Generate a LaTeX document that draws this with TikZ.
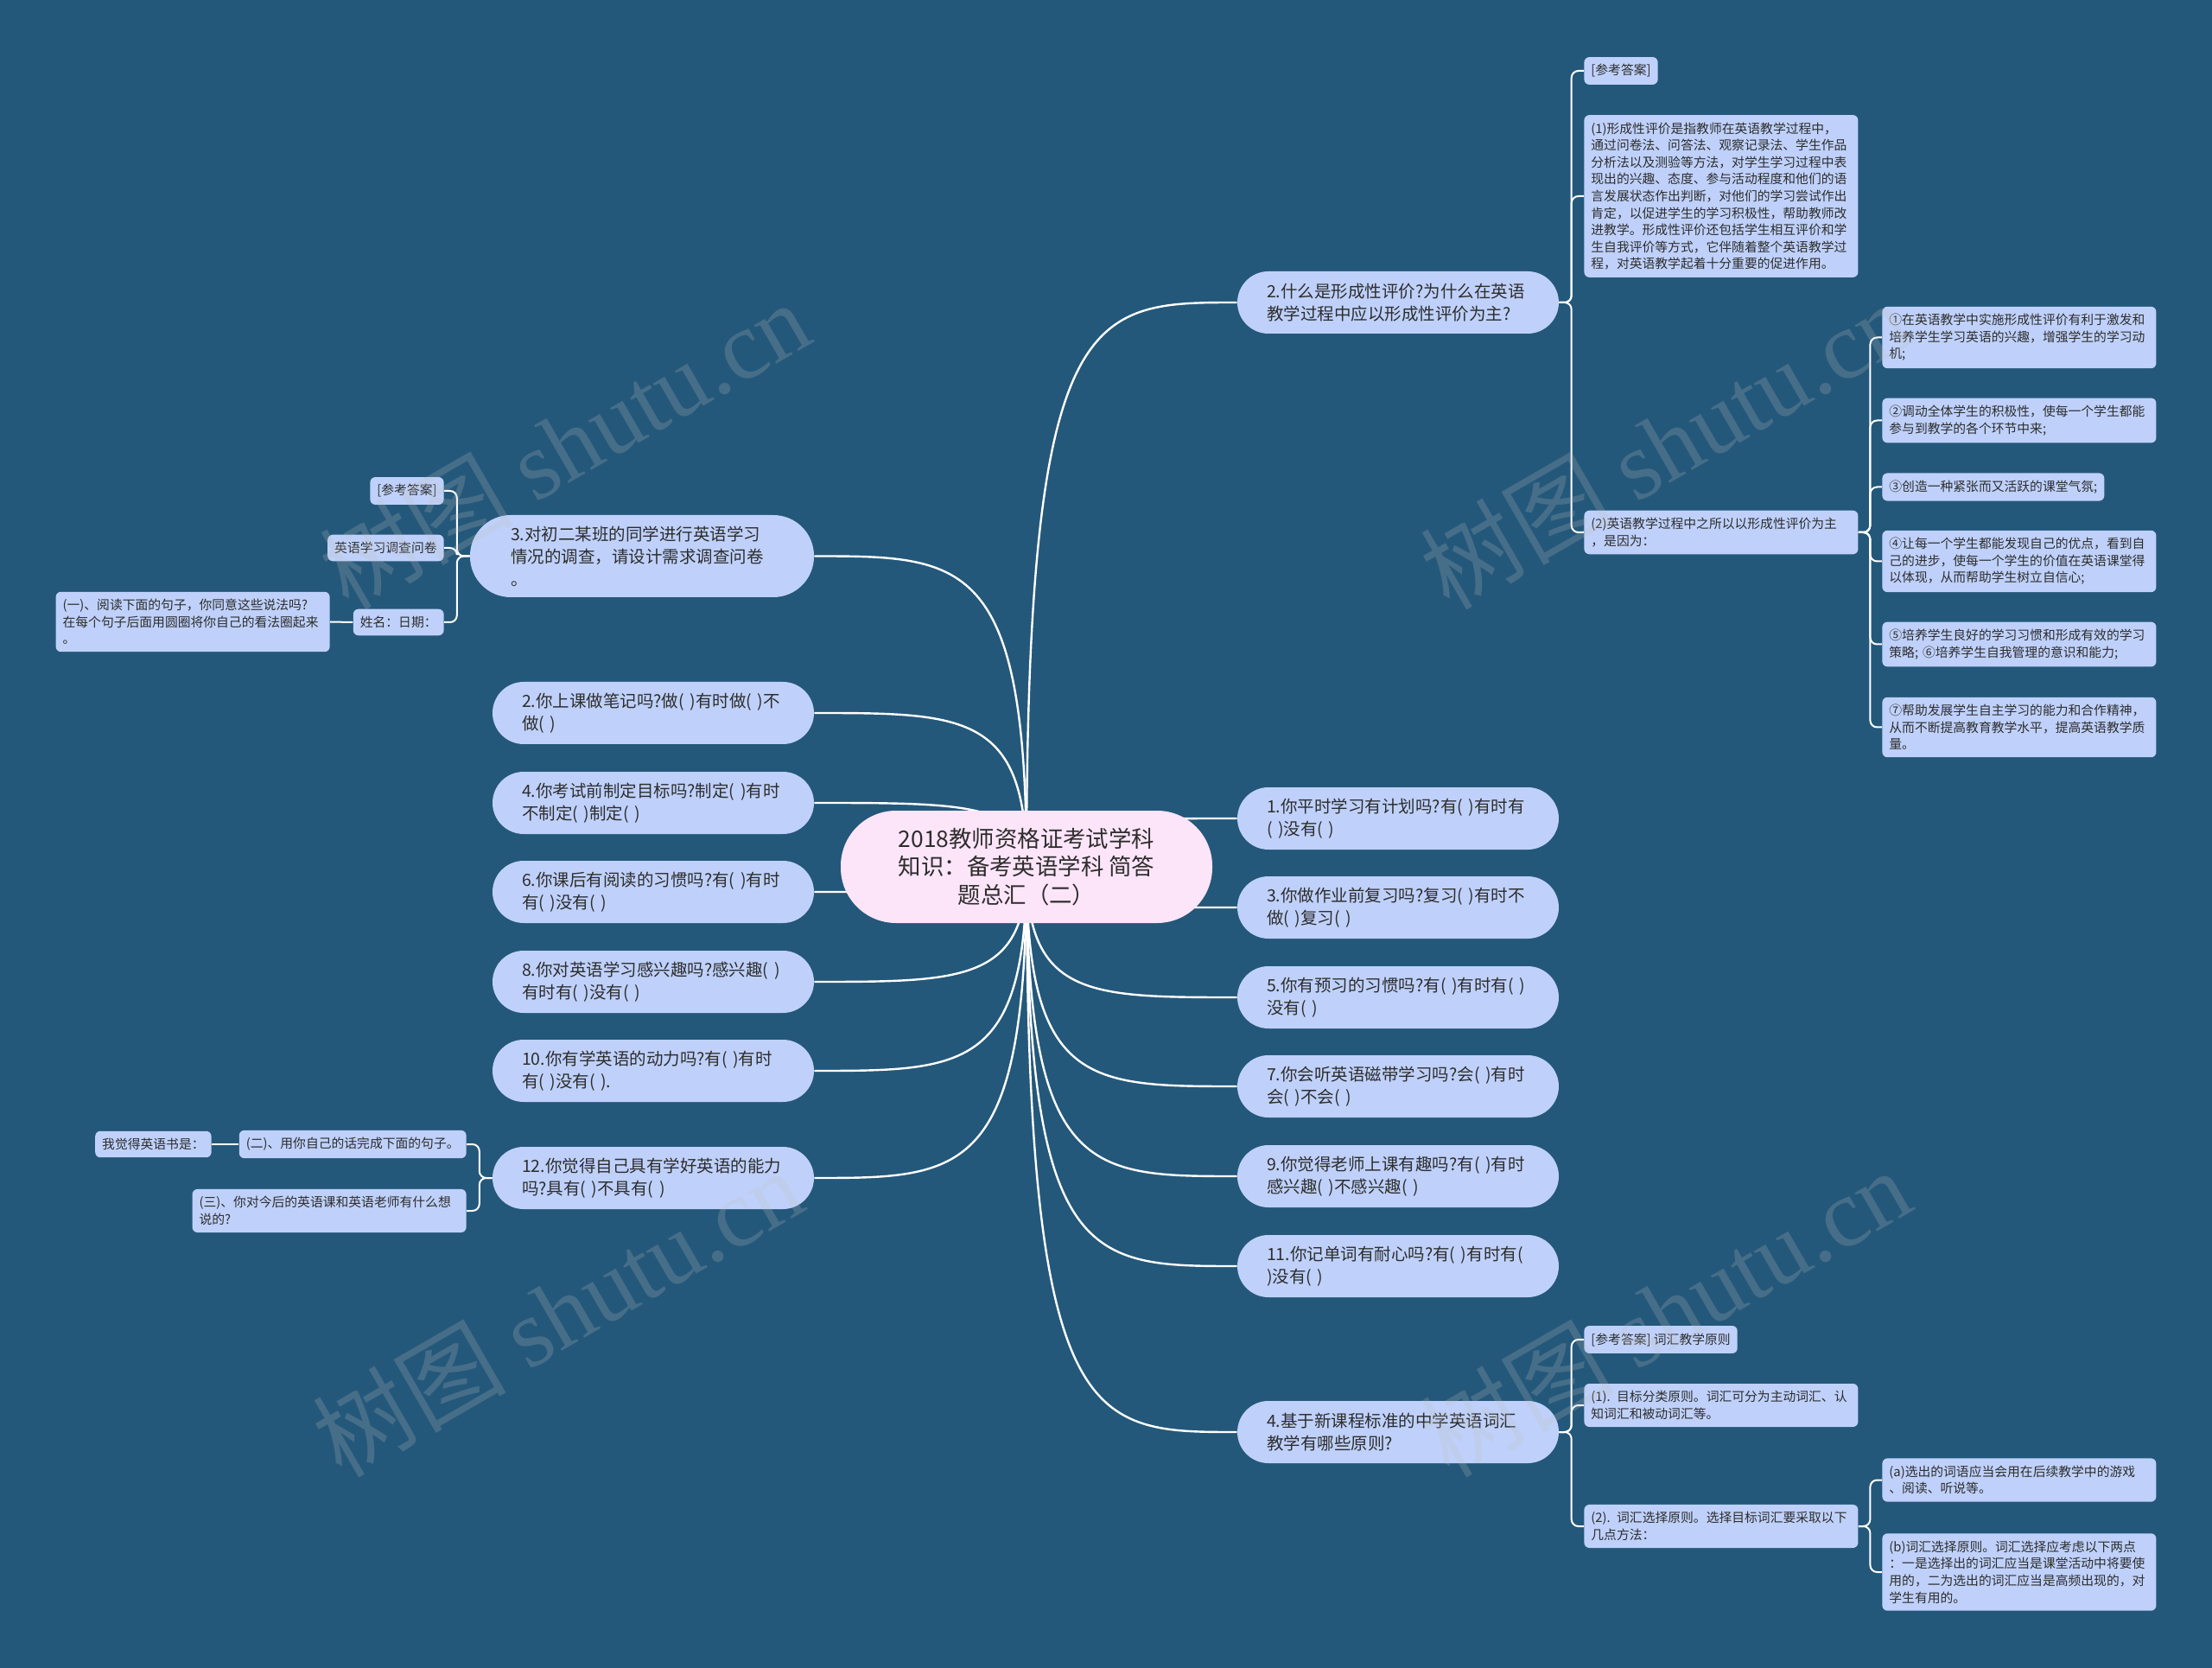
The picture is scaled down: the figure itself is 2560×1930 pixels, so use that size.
\documentclass[tikz,border=0pt]{standalone}
\usepackage{fontspec}
\setmainfont{Noto Sans CJK SC}
\newfontfamily\wmserif{Liberation Serif}
\usetikzlibrary{calc}
\pgfdeclarelayer{bglayer}
\pgfdeclarelayer{linklayer}
\pgfsetlayers{bglayer,linklayer,main}
\definecolor{bgcol}{RGB}{36,88,122}
\definecolor{nodefill}{RGB}{191,209,250}
\definecolor{rootfill}{RGB}{253,229,249}
\definecolor{txt}{RGB}{45,45,45}
\newcommand\mainfs{\fontsize{9.75pt}{13pt}\selectfont}
\newcommand\subfs{\fontsize{7.4pt}{9.8pt}\selectfont}
\newcommand\rootfs{\fontsize{13.2pt}{16.25pt}\selectfont}
\tikzset{
  rootnode/.style={rounded corners=32pt, fill=rootfill, text=txt, font=\rootfs, align=center, minimum width=215pt, minimum height=65pt, inner sep=0pt},
  mainnode/.style={rounded corners=18pt, fill=nodefill, text=txt, font=\mainfs, text width=152pt, align=left, inner xsep=17pt, inner ysep=0pt, minimum height=36pt},
  subnode/.style={rounded corners=3pt, fill=nodefill, text=txt, font=\subfs, align=left, inner xsep=4pt, inner ysep=4.2pt},
  wide/.style={text width=150.5pt},
  link/.style={draw=white, line width=1.2pt},
  sublink/.style={draw=white, line width=1pt, rounded corners=4pt},
  wm/.style={font=\fontsize{56pt}{56pt}\selectfont, text=white!50!gray, text opacity=0.22, rotate=30, inner sep=0pt}
}
\newcommand\mlinkR[1]{\draw[link] let \p1=(c.center),\p2=(#1.west) in (\p1) .. controls (\x1,\y2) and ({\x1+0.3*(\x2-\x1)},\y2) .. (\p2);}
\newcommand\mlinkL[1]{\draw[link] let \p1=(c.center),\p2=(#1.east) in (\p1) .. controls (\x1,\y2) and ({\x1+0.3*(\x2-\x1)},\y2) .. (\p2);}
\newcommand\blinkR[2]{\draw[sublink] let \p1=(#1.east),\p2=(#2.west) in (\p1) -- ({(\x1+\x2)/2},\y1) -- ({(\x1+\x2)/2},\y2) -- (\p2);}
\newcommand\blinkL[2]{\draw[sublink] let \p1=(#1.west),\p2=(#2.east) in (\p1) -- ({(\x1+\x2)/2},\y1) -- ({(\x1+\x2)/2},\y2) -- (\p2);}
\begin{document}
\begin{tikzpicture}[x=0.5pt,y=-0.5pt]
\begin{pgfonlayer}{bglayer}
\fill[bgcol] (0,0) rectangle (2560,1930);
\end{pgfonlayer}
\useasboundingbox (0,0) rectangle (2560,1930);

% root
\node[rootnode] (c) at (1188,1003) {2018教师资格证考试学科\\知识：备考英语学科 简答\\题总汇（二）};

% right main branches
\node[mainnode] (r2) at (1618,350) {2.什么是形成性评价?为什么在英语\\教学过程中应以形成性评价为主?};
\node[mainnode] (r1) at (1618,947) {1.你平时学习有计划吗?有( )有时有\\( )没有( )};
\node[mainnode] (r3) at (1618,1050) {3.你做作业前复习吗?复习( )有时不\\做( )复习( )};
\node[mainnode] (r5) at (1618,1154) {5.你有预习的习惯吗?有( )有时有( )\\没有( )};
\node[mainnode] (r7) at (1618,1257) {7.你会听英语磁带学习吗?会( )有时\\会( )不会( )};
\node[mainnode] (r9) at (1618,1361) {9.你觉得老师上课有趣吗?有( )有时\\感兴趣( )不感兴趣( )};
\node[mainnode] (r11) at (1618,1465) {11.你记单词有耐心吗?有( )有时有(\\)没有( )};
\node[mainnode] (r4) at (1618,1657) {4.基于新课程标准的中学英语词汇\\教学有哪些原则?};

% left main branches
\node[mainnode, inner xsep=23.5pt, minimum height=47.5pt, rounded corners=23.5pt] (l3) at (743,643.5) {3.对初二某班的同学进行英语学习\\情况的调查，请设计需求调查问卷\\。};
\node[mainnode] (l2) at (756,825) {2.你上课做笔记吗?做( )有时做( )不\\做( )};
\node[mainnode] (l4) at (756,929) {4.你考试前制定目标吗?制定( )有时\\不制定( )制定( )};
\node[mainnode] (l6) at (756,1032) {6.你课后有阅读的习惯吗?有( )有时\\有( )没有( )};
\node[mainnode] (l8) at (756,1136) {8.你对英语学习感兴趣吗?感兴趣( )\\有时有( )没有( )};
\node[mainnode] (l10) at (756,1239) {10.你有学英语的动力吗?有( )有时\\有( )没有( ).};
\node[mainnode] (l12) at (756,1363) {12.你觉得自己具有学好英语的能力\\吗?具有( )不具有( )};

% sub nodes of r2
\node[subnode, anchor=west] (s1) at (1833,82) {[参考答案]};
\node[subnode, wide, anchor=west] (s2) at (1833,227) {(1)形成性评价是指教师在英语教学过程中，\\通过问卷法、问答法、观察记录法、学生作品\\分析法以及测验等方法，对学生学习过程中表\\现出的兴趣、态度、参与活动程度和他们的语\\言发展状态作出判断，对他们的学习尝试作出\\肯定，以促进学生的学习积极性，帮助教师改\\进教学。形成性评价还包括学生相互评价和学\\生自我评价等方式，它伴随着整个英语教学过\\程，对英语教学起着十分重要的促进作用。};
\node[subnode, wide, anchor=west] (s3) at (1833,616) {(2)英语教学过程中之所以以形成性评价为主\\，是因为：};
\node[subnode, wide, anchor=west] (t1) at (2178,390.5) {①在英语教学中实施形成性评价有利于激发和\\培养学生学习英语的兴趣，增强学生的学习动\\机;};
\node[subnode, wide, anchor=west] (t2) at (2178,486.5) {②调动全体学生的积极性，使每一个学生都能\\参与到教学的各个环节中来;};
\node[subnode, anchor=west] (t3) at (2178,563.5) {③创造一种紧张而又活跃的课堂气氛;};
\node[subnode, wide, anchor=west] (t4) at (2178,649.5) {④让每一个学生都能发现自己的优点，看到自\\己的进步，使每一个学生的价值在英语课堂得\\以体现，从而帮助学生树立自信心;};
\node[subnode, wide, anchor=west] (t5) at (2178,745.5) {⑤培养学生良好的学习习惯和形成有效的学习\\策略; ⑥培养学生自我管理的意识和能力;};
\node[subnode, wide, anchor=west] (t7) at (2178,841.5) {⑦帮助发展学生自主学习的能力和合作精神，\\从而不断提高教育教学水平，提高英语教学质\\量。};

% sub nodes of r4
\node[subnode, anchor=west] (u1) at (1833,1550) {[参考答案] 词汇教学原则};
\node[subnode, wide, anchor=west] (u2) at (1833,1626) {(1). 目标分类原则。词汇可分为主动词汇、认\\知词汇和被动词汇等。};
\node[subnode, wide, anchor=west] (u3) at (1833,1766) {(2). 词汇选择原则。选择目标词汇要采取以下\\几点方法：};
\node[subnode, wide, anchor=west] (v1) at (2178,1712.5) {(a)选出的词语应当会用在后续教学中的游戏\\、阅读、听说等。};
\node[subnode, wide, anchor=west] (v2) at (2178,1819) {(b)词汇选择原则。词汇选择应考虑以下两点\\：一是选择出的词汇应当是课堂活动中将要使\\用的，二为选出的词汇应当是高频出现的，对\\学生有用的。};

% sub nodes of l3
\node[subnode, anchor=east] (w1) at (514,568) {[参考答案]};
\node[subnode, anchor=east] (w2) at (514,634) {英语学习调查问卷};
\node[subnode, anchor=east] (w3) at (514,720) {姓名：日期：};
\node[subnode, wide, anchor=east] (w4) at (382,719.5) {(一)、阅读下面的句子，你同意这些说法吗?\\在每个句子后面用圆圈将你自己的看法圈起来\\。};

% sub nodes of l12
\node[subnode, anchor=east] (x1) at (540,1324) {(二)、用你自己的话完成下面的句子。};
\node[subnode, anchor=east] (x2) at (245,1324) {我觉得英语书是：};
\node[subnode, wide, anchor=east] (x3) at (540,1401) {(三)、你对今后的英语课和英语老师有什么想\\说的?};

\begin{pgfonlayer}{linklayer}
\mlinkR{r2}\mlinkR{r1}\mlinkR{r3}\mlinkR{r5}\mlinkR{r7}\mlinkR{r9}\mlinkR{r11}\mlinkR{r4}
\mlinkL{l3}\mlinkL{l2}\mlinkL{l4}\mlinkL{l6}\mlinkL{l8}\mlinkL{l10}\mlinkL{l12}
\blinkR{r2}{s1}\blinkR{r2}{s2}\blinkR{r2}{s3}
\blinkR{s3}{t1}\blinkR{s3}{t2}\blinkR{s3}{t3}\blinkR{s3}{t4}\blinkR{s3}{t5}\blinkR{s3}{t7}
\blinkR{r4}{u1}\blinkR{r4}{u2}\blinkR{r4}{u3}
\blinkR{u3}{v1}\blinkR{u3}{v2}
\blinkL{l3}{w1}\blinkL{l3}{w2}\blinkL{l3}{w3}
\draw[sublink] (w3.west) -- (w4.east);
\blinkL{l12}{x1}\blinkL{l12}{x3}
\draw[sublink] (x1.west) -- (x2.east);
\end{pgfonlayer}

% watermarks
\node[wm] (wm1) at (653,514) {树图 {\wmserif shutu.cn}};
\node[wm] (wm2) at (645,1518) {树图 {\wmserif shutu.cn}};
\node[wm] (wm3) at (1927,514) {树图 {\wmserif shutu.cn}};
\node[wm] (wm4) at (1927,1518) {树图 {\wmserif shutu.cn}};
\end{tikzpicture}
\end{document}
